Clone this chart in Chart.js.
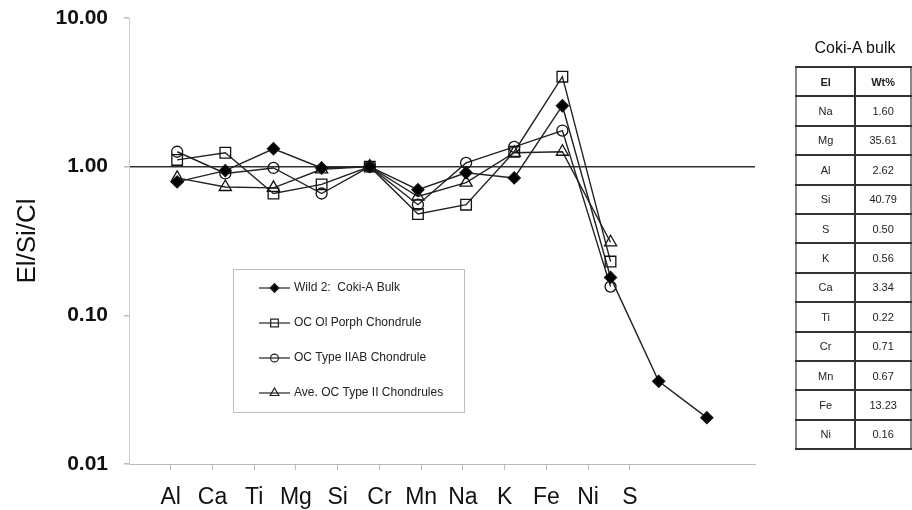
<!DOCTYPE html>
<html><head><meta charset="utf-8">
<script src="https://cdn.jsdelivr.net/npm/chart.js@4/dist/chart.umd.min.js"></script>
<style>
html,body{margin:0;padding:0;background:#fff;}
#wrap{position:relative;width:912px;height:510px;overflow:hidden;background:#fff;}
#c{position:absolute;left:0;top:0;}
#ttl{position:absolute;left:790px;top:38px;width:130px;text-align:center;font:16px "Liberation Sans",Arial,sans-serif;color:#111;line-height:20px;}
#tbl{position:absolute;left:795px;top:66px;border-collapse:collapse;font:11px "Liberation Sans",Arial,sans-serif;color:#222;border:2px solid #8a8a8a;}
#tbl td{border-top:2px solid #333;border-bottom:2px solid #333;text-align:center;padding:0;height:27.4px;}
#tbl td.c1{width:61px;border-right:2px solid #333;}
#tbl td.c2{width:56px;}
#tbl tr.h td{font-weight:bold;}
</style></head>
<body>
<div id="wrap">
<canvas id="c" width="912" height="510"></canvas>
<div id="ttl">Coki-A bulk</div>
<table id="tbl"></table>
</div>
<script>
const categories = ['Al','Ca','Ti','Mg','Si','Cr','Mn','Na','K','Fe','Ni','S'];
const cokiBulk  = [0.79, 0.94, 1.32, 0.98, 1.00, 0.70, 0.91, 0.84, 2.57, 0.18, 0.036, 0.0205];
const olPorph   = [1.11, 1.24, 0.66, 0.76, 1.00, 0.48, 0.555, 1.26, 4.03, 0.23];
const typeIIAB  = [1.26, 0.90, 0.98, 0.66, 1.00, 0.555, 1.06, 1.36, 1.75, 0.156];
const aveTypeII = [0.84, 0.73, 0.72, 0.96, 1.00, 0.63, 0.78, 1.24, 1.26, 0.31];
const yTicks = [0.01, 0.1, 1, 10];
const seriesNames = ['Wild 2:  Coki-A Bulk','OC Ol Porph Chondrule','OC Type IIAB Chondrule','Ave. OC Type II Chondrules'];
const tableTitle = 'Coki-A bulk';
const tableHead = ['El','Wt%'];
const tableEls = ['Na','Mg','Al','Si','S','K','Ca','Ti','Cr','Mn','Fe','Ni'];
const tableWt  = ['1.60','35.61','2.62','40.79','0.50','0.56','3.34','0.22','0.71','0.67','13.23','0.16'];

// table
const tbl = document.getElementById('tbl');
let html = '<tr class="h"><td class="c1">'+tableHead[0]+'</td><td class="c2">'+tableHead[1]+'</td></tr>';
tableEls.forEach((e,i)=>{ html += '<tr><td class="c1">'+e+'</td><td class="c2">'+tableWt[i]+'</td></tr>'; });
tbl.innerHTML = html;
document.getElementById('ttl').textContent = tableTitle;

const FONT = '"Liberation Sans", Arial, Helvetica, sans-serif';
Chart.defaults.font.family = FONT;

const toPts = arr => arr.map((v,i)=>({x:i+1, y:v}));

const styles = [
  {pointStyle:'rectRot', pointRadius:6, fill:'#000'},
  {pointStyle:'rect', pointRadius:7.5, fill:'rgba(0,0,0,0)'},
  {pointStyle:'circle', pointRadius:5.5, fill:'rgba(0,0,0,0)'},
  {pointStyle:'triangle', pointRadius:7, fill:'rgba(0,0,0,0)'}
];
const allData = [cokiBulk, olPorph, typeIIAB, aveTypeII];

const datasets = allData.map((arr,i)=>({
  label: seriesNames[i],
  data: toPts(arr),
  borderColor:'#222',
  borderWidth:1.4,
  pointStyle: styles[i].pointStyle,
  pointRadius: styles[i].pointRadius,
  pointBackgroundColor: styles[i].fill,
  pointBorderColor:'#111',
  pointBorderWidth:1.3,
  tension:0,
  fill:false
}));

function drawMarker(ctx, style, r, x, y, fill){
  ctx.beginPath();
  if(style==='rectRot'){ ctx.moveTo(x-r,y); ctx.lineTo(x,y-r); ctx.lineTo(x+r,y); ctx.lineTo(x,y+r); ctx.closePath(); }
  else if(style==='rect'){ const s=r*Math.SQRT1_2; ctx.rect(x-s,y-s,2*s,2*s); }
  else if(style==='circle'){ ctx.arc(x,y,r,0,Math.PI*2); }
  else if(style==='triangle'){ ctx.moveTo(x, y-r); ctx.lineTo(x+r*0.866, y+r*0.5); ctx.lineTo(x-r*0.866, y+r*0.5); ctx.closePath(); }
  ctx.fillStyle=fill; ctx.fill(); ctx.stroke();
}

const legendBox = {
  id:'legendBox',
  afterDatasetsDraw(chart){
    const ctx = chart.ctx;
    ctx.save();
    const bx=233.5, by=269.5, bw=231, bh=143;
    ctx.fillStyle='#fff'; ctx.fillRect(bx,by,bw,bh);
    ctx.strokeStyle='#bdbdbd'; ctx.lineWidth=1; ctx.strokeRect(bx,by,bw,bh);
    chart.data.datasets.forEach((ds,i)=>{
      const y = 288 + i*35;
      ctx.strokeStyle='#222'; ctx.lineWidth=1.2;
      ctx.beginPath(); ctx.moveTo(259,y); ctx.lineTo(290,y); ctx.stroke();
      drawMarker(ctx, ds.pointStyle, ds.pointRadius*0.72, 274.5, y, ds.pointBackgroundColor);
      ctx.fillStyle='#222'; ctx.font='12px '+FONT; ctx.textBaseline='middle'; ctx.textAlign='left';
      ctx.fillText(ds.label, 294, y);
    });
    ctx.restore();
  }
};

new Chart(document.getElementById('c'), {
  type:'line',
  data:{datasets},
  options:{
    responsive:false, animation:false, devicePixelRatio:1,
    layout:{padding:{top:18, right:157, left:0, bottom:0}, autoPadding:false},
    plugins:{legend:{display:false}, tooltip:{enabled:false}},
    scales:{
      x:{type:'linear', min:0, max:13, display:false},
      xl:{type:'linear', position:'bottom', min:0, max:15,
        afterBuildTicks:s=>{ s.ticks = categories.map((c,i)=>({value:i+1})); },
        afterFit:s=>{ s.height = 46; s.paddingLeft = 0; s.paddingRight = 0; },
        ticks:{callback:(v,idx)=>categories[idx], autoSkip:false, maxRotation:0, font:{size:23}, color:'#111', padding:14},
        grid:{drawOnChartArea:false, tickColor:'#bbb', tickLength:6},
        border:{color:'#bbb', width:1}
      },
      y:{type:'logarithmic', min:0.01, max:10,
        afterBuildTicks:s=>{ s.ticks = yTicks.map(v=>({value:v})); },
        afterFit:s=>{ s.width = 129; s.paddingTop = 0; s.paddingBottom = 0; },
        ticks:{callback:v=>Number(v).toFixed(2), font:{size:21, weight:'bold'}, color:'#111', padding:16},
        grid:{color:c=>(c.tick && c.tick.value===1)?'#333':'rgba(0,0,0,0)', lineWidth:1.5, tickColor:'#bbb', tickLength:5},
        border:{color:'#ccc', width:1},
        title:{display:true, text:'El/Si/Cl', font:{size:26}, color:'#111', padding:{top:12,bottom:0}}
      }
    }
  },
  plugins:[legendBox]
});
</script>
</body></html>
